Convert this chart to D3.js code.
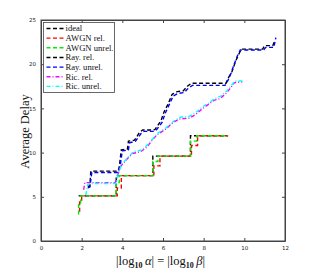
<!DOCTYPE html>
<html>
<head>
<meta charset="utf-8">
<script src="https://cdn.jsdelivr.net/npm/d3@7"></script>
<style>
  body { margin: 0; background: #fff; }
  svg { display: block; }
</style>
</head>
<body>
<svg id="chart" width="315" height="272"></svg>
<script>
// series, as [x, y] pairs
const ideal = [[1.85,5.1],[3.7,5.1],[3.7,7.4],[5.5,7.4],[5.5,9.6],[7.35,9.6],[7.35,11.9],[9.2,11.9]];
const awgnRel = [[1.9,3.3],[1.9,4.5],[2.0,4.5],[2.0,5.1],[3.75,5.1],[3.75,6.0],[3.95,6.0],[3.95,7.4],[5.55,7.4],[5.55,8.5],[5.85,8.5],[5.85,9.6],[7.4,9.6],[7.4,10.8],[7.7,10.8],[7.7,11.9],[9.2,11.9]];
const awgnUnrel = [[1.85,3.0],[1.85,4.2],[1.95,4.2],[1.95,5.1],[3.7,5.1],[3.7,6.6],[3.85,6.6],[3.85,7.4],[5.5,7.4],[5.5,9.0],[5.75,9.0],[5.75,9.6],[7.35,9.6],[7.35,11.3],[7.65,11.3],[7.65,11.9],[9.2,11.9]];
const rayRel = [[2.3,6.2],[2.4,6.2],[2.45,7.9],[3.8,7.9],[3.85,8.4],[3.95,10.3],[4.25,10.4],[4.3,11.3],[4.6,11.4],[4.85,12.3],[5.0,12.55],[5.45,12.55],[5.6,12.6],[5.9,13.6],[6.05,14.6],[6.25,15.5],[6.45,16.6],[6.7,16.9],[7.0,17.0],[7.2,17.5],[7.4,17.85],[9.1,17.85],[9.2,18.4],[9.4,19.2],[9.55,20.2],[9.7,21.0],[9.85,21.7],[10.9,21.7],[11.0,22.1],[11.4,22.1],[11.5,22.7]];
const rayUnrel = [[2.3,6.0],[2.4,6.1],[2.5,7.75],[3.8,7.75],[3.9,8.6],[4.0,10.2],[4.3,10.3],[4.35,11.1],[4.65,11.3],[4.9,12.1],[5.05,12.4],[5.5,12.4],[5.65,12.5],[5.95,13.4],[6.1,14.4],[6.3,15.4],[6.5,16.4],[6.75,16.7],[7.05,16.8],[7.25,17.3],[7.45,17.6],[9.05,17.6],[9.2,18.2],[9.35,19.0],[9.5,20.0],[9.65,20.9],[9.8,21.6],[10.95,21.6],[11.05,21.9],[11.45,21.9],[11.55,23.0]];
const ricRel = [[2.1,5.8],[2.15,6.6],[3.65,6.6],[3.75,7.3],[3.9,8.4],[4.2,9.2],[4.5,9.9],[4.9,10.1],[5.2,10.6],[5.5,11.5],[5.7,12.0],[6.1,12.6],[6.5,13.4],[6.8,13.8],[7.3,13.9],[7.6,14.3],[7.9,14.9],[8.2,15.4],[8.5,15.9],[8.8,16.1],[9.1,16.7],[9.35,17.4],[9.5,17.9],[9.9,18.0]];
const ricUnrel = [[2.2,5.2],[2.3,6.4],[2.4,6.5],[3.7,6.5],[3.8,7.6],[3.95,8.6],[4.25,9.4],[4.55,10.1],[4.95,10.3],[5.25,10.9],[5.55,11.7],[5.75,12.2],[6.15,12.8],[6.55,13.6],[6.85,14.0],[7.3,14.1],[7.65,14.6],[7.95,15.2],[8.25,15.6],[8.55,16.1],[8.85,16.4],[9.15,17.0],[9.4,17.7],[9.55,18.1],[10.0,18.1]];

const seriesNames = ["ideal", "AWGN rel.", "AWGN unrel.", "Ray. rel.", "Ray. unrel.", "Ric. rel.", "Ric. unrel."];
const seriesData = [ideal, awgnRel, awgnUnrel, rayRel, rayUnrel, ricRel, ricUnrel];
const seriesColors = ["#000000", "#ff0000", "#00ee00", "#000000", "#0000ff", "#ff00ff", "#00ffff"];
const seriesDash = ["4,2.5", "4,2.5", "4,2.5", "4,2.5", "4,2.5", "4,2,1,2", "4,2,1,2"];

const xTicks = [0, 2, 4, 6, 8, 10, 12];
const yTicks = [0, 5, 10, 15, 20, 25];

const svg = d3.select("#chart");
const plotL = 41, plotR = 285, plotT = 20, plotB = 241;

const x = d3.scaleLinear().domain([0, 12]).range([plotL, plotR]);
const y = d3.scaleLinear().domain([0, 25]).range([plotB, plotT]);

// axes, matlab style: ticks inside, on all four sides
const tickFont = g => g.selectAll("text")
    .attr("font-family", "DejaVu Sans")
    .attr("font-size", "5.5px")
    .attr("fill", "#222");

svg.append("g")
    .attr("transform", `translate(0,${plotB})`)
    .call(d3.axisBottom(x).tickValues(xTicks).tickSizeInner(-3).tickSizeOuter(0).tickPadding(5))
    .call(tickFont);
svg.append("g")
    .attr("transform", `translate(0,${plotT})`)
    .call(d3.axisTop(x).tickValues(xTicks).tickSizeInner(-3).tickSizeOuter(0).tickFormat(""));
svg.append("g")
    .attr("transform", `translate(${plotL},0)`)
    .call(d3.axisLeft(y).tickValues(yTicks).tickSizeInner(-3).tickSizeOuter(0).tickPadding(5))
    .call(tickFont);
svg.append("g")
    .attr("transform", `translate(${plotR},0)`)
    .call(d3.axisRight(y).tickValues(yTicks).tickSizeInner(-3).tickSizeOuter(0).tickFormat(""));

svg.selectAll(".domain").attr("stroke", "#444");
svg.selectAll(".tick line").attr("stroke", "#444");

// plot box
svg.append("rect")
    .attr("x", plotL).attr("y", plotT)
    .attr("width", plotR - plotL).attr("height", plotB - plotT)
    .attr("fill", "none")
    .attr("stroke", "#444")
    .attr("stroke-width", 1);

const line = d3.line().x(d => x(d[0])).y(d => y(d[1]));

seriesData.forEach((s, i) => {
    svg.append("path")
        .datum(s)
        .attr("d", line)
        .attr("fill", "none")
        .attr("stroke", seriesColors[i])
        .attr("stroke-width", 1.4)
        .attr("stroke-dasharray", seriesDash[i]);
});

// legend
const legend = svg.append("g");
legend.append("rect")
    .attr("x", 43.5).attr("y", 22.5)
    .attr("width", 71).attr("height", 70)
    .attr("fill", "#fff")
    .attr("stroke", "#444")
    .attr("stroke-width", 0.8);

seriesNames.forEach((name, i) => {
    const ly = 28.5 + i * 9.65;
    legend.append("line")
        .attr("x1", 46.5).attr("x2", 63.5)
        .attr("y1", ly).attr("y2", ly)
        .attr("stroke", seriesColors[i])
        .attr("stroke-width", 1.4)
        .attr("stroke-dasharray", seriesDash[i]);
    legend.append("text")
        .attr("x", 65.5).attr("y", ly + 2.8)
        .attr("font-family", "Liberation Serif")
        .attr("font-size", "8.6px")
        .attr("fill", "#111")
        .attr("xml:space", "preserve")
        .text(name);
});

// axis titles
svg.append("text")
    .attr("transform", `translate(28.5,131.5) rotate(-90)`)
    .attr("text-anchor", "middle")
    .attr("font-family", "Liberation Serif")
    .attr("font-size", "12.5px")
    .attr("fill", "#111")
    .text("Average Delay");

const xl = svg.append("text")
    .attr("x", 160.5)
    .attr("y", 265)
    .attr("text-anchor", "middle")
    .attr("font-family", "Liberation Serif")
    .attr("font-size", "12.5px")
    .attr("fill", "#111");
xl.append("tspan").text("|log");
xl.append("tspan").attr("font-size", "8px").attr("font-weight", "bold").attr("dy", 2.8).text("10");
xl.append("tspan").attr("dy", -2.8).attr("font-style", "italic").text("\u2009α");
xl.append("tspan").text("| = |log");
xl.append("tspan").attr("font-size", "8px").attr("font-weight", "bold").attr("dy", 2.8).text("10");
xl.append("tspan").attr("dy", -2.8).attr("font-style", "italic").text("\u2009β");
xl.append("tspan").text("|");
</script>
</body>
</html>
